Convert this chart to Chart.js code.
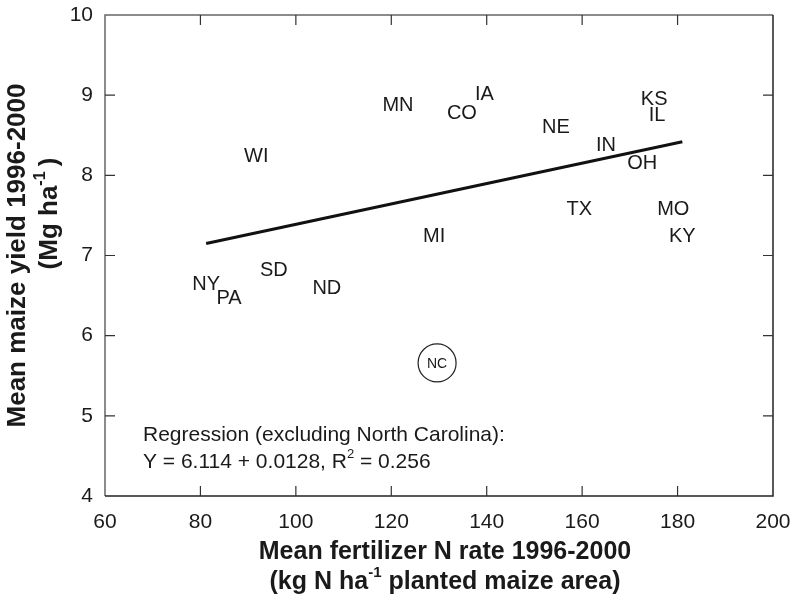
<!DOCTYPE html>
<html lang="en">
<head>
  <meta charset="UTF-8" />
  <title>Maize yield vs fertilizer N rate</title>
  <script src="https://cdn.jsdelivr.net/npm/chart.js"></script>
  <style>
    html, body { margin: 0; padding: 0; background: #fff; }
    #wrap { width: 795px; height: 602px; }
  </style>
</head>
<body>
  <div id="wrap"><canvas id="yieldChart" width="795" height="602"></canvas></div>

  <script>
    // state labels, mean N rate (kg N/ha) and mean yield (Mg/ha)
    const states = ['NY', 'PA', 'SD', 'ND', 'WI', 'MN', 'MI', 'CO', 'IA', 'NE', 'TX', 'IN', 'OH', 'KS', 'IL', 'MO', 'KY'];
    const nRate = [81.2, 86.0, 95.4, 106.5, 91.7, 121.4, 129.0, 134.8, 139.5, 154.5, 159.4, 165.0, 172.6, 175.1, 175.7, 179.1, 181.0];
    const yieldMean = [6.64, 6.47, 6.81, 6.59, 8.23, 8.87, 7.24, 8.77, 9.01, 8.60, 7.58, 8.37, 8.15, 8.95, 8.75, 7.58, 7.24];

    // North Carolina (outlier, circled)
    const ncLabel = ['NC'];
    const ncRate = [129.6];
    const ncYield = [5.66];

    // regression line end points
    const fitX = [81.2, 181.0];
    const fitY = [7.15, 8.42];

    const xTicks = [60, 80, 100, 120, 140, 160, 180, 200];
    const yTicks = [4, 5, 6, 7, 8, 9, 10];

    const FONT = '"Liberation Sans", Arial, sans-serif';
    const INK = '#1a1a1a';

    const toPts = (xs, ys) => xs.map((x, i) => ({ x: x, y: ys[i] }));

    // draw a line of text made of normal / superscript pieces
    function richText(ctx, parts, x, y, size, bold, align) {
      const w = bold ? 'bold ' : '';
      const supSize = Math.round(size * 0.6);
      let total = 0;
      parts.forEach(p => {
        ctx.font = w + (p.sup ? supSize : size) + 'px ' + FONT;
        p.w = ctx.measureText(p.t).width;
        total += p.w;
      });
      let cx = align === 'center' ? x - total / 2 : x;
      ctx.textAlign = 'left';
      ctx.textBaseline = 'middle';
      parts.forEach(p => {
        ctx.font = w + (p.sup ? supSize : size) + 'px ' + FONT;
        ctx.fillText(p.t, cx, p.sup ? y - size * 0.38 : y);
        cx += p.w;
      });
    }

    const framePlugin = {
      id: 'frame',
      afterDatasetsDraw(chart) {
        const ctx = chart.ctx;
        const a = chart.chartArea;
        const xs = chart.scales.x, ys = chart.scales.y;
        ctx.save();
        ctx.lineWidth = 1.5;
        // left + top (lighter), right + bottom (darker)
        ctx.strokeStyle = '#666';
        ctx.beginPath();
        ctx.moveTo(a.left, a.bottom); ctx.lineTo(a.left, a.top); ctx.lineTo(a.right, a.top);
        ctx.stroke();
        ctx.strokeStyle = '#222';
        ctx.beginPath();
        ctx.moveTo(a.left, a.bottom); ctx.lineTo(a.right, a.bottom); ctx.lineTo(a.right, a.top);
        ctx.stroke();
        // inward ticks on all four sides
        const tl = 10;
        ctx.lineWidth = 1.2;
        ctx.strokeStyle = '#333';
        xs.ticks.forEach(t => {
          if (t.value <= xs.min || t.value >= xs.max) return;
          const px = xs.getPixelForValue(t.value);
          ctx.beginPath();
          ctx.moveTo(px, a.bottom); ctx.lineTo(px, a.bottom - tl);
          ctx.moveTo(px, a.top); ctx.lineTo(px, a.top + tl);
          ctx.stroke();
        });
        ys.ticks.forEach(t => {
          if (t.value <= ys.min || t.value >= ys.max) return;
          const py = ys.getPixelForValue(t.value);
          ctx.beginPath();
          ctx.moveTo(a.left, py); ctx.lineTo(a.left + tl, py);
          ctx.moveTo(a.right, py); ctx.lineTo(a.right - tl, py);
          ctx.stroke();
        });

        // state abbreviations at their points
        ctx.fillStyle = INK;
        ctx.textAlign = 'center';
        ctx.textBaseline = 'middle';
        ctx.font = '20px ' + FONT;
        chart.getDatasetMeta(0).data.forEach((pt, i) => {
          ctx.fillText(states[i], pt.x, pt.y);
        });
        ctx.font = '14px ' + FONT;
        chart.getDatasetMeta(1).data.forEach((pt, i) => {
          ctx.fillText(ncLabel[i], pt.x, pt.y + 1);
        });

        // regression note
        richText(ctx, [{ t: 'Regression (excluding North Carolina):' }], a.left + 38, 435, 21, false, 'left');
        richText(ctx, [{ t: 'Y = 6.114 + 0.0128, R' }, { t: '2', sup: true }, { t: ' = 0.256' }], a.left + 38, 462, 21, false, 'left');

        // axis titles
        const midX = (a.left + a.right) / 2 + 6;
        richText(ctx, [{ t: 'Mean fertilizer N rate 1996-2000' }], midX, 552, 25, true, 'center');
        richText(ctx, [{ t: '(kg N ha' }, { t: '-1', sup: true }, { t: ' planted maize area)' }], midX, 582, 25, true, 'center');

        const midY = (a.top + a.bottom) / 2;
        ctx.translate(0, midY);
        ctx.rotate(-Math.PI / 2);
        richText(ctx, [{ t: 'Mean maize yield 1996-2000' }], 0, 18, 26, true, 'center');
        richText(ctx, [{ t: '(Mg ha' }, { t: '-1', sup: true }, { t: '\u2009)' }], 42, 50, 26, true, 'center');
        ctx.restore();
      }
    };

    new Chart(document.getElementById('yieldChart').getContext('2d'), {
      type: 'scatter',
      data: {
        datasets: [
          {
            label: 'States',
            data: toPts(nRate, yieldMean),
            pointRadius: 0,
            pointHoverRadius: 0
          },
          {
            label: 'North Carolina',
            data: toPts(ncRate, ncYield),
            pointRadius: 19,
            pointHoverRadius: 19,
            pointBackgroundColor: '#fff',
            pointBorderColor: '#222',
            pointBorderWidth: 1.2
          },
          {
            type: 'line',
            label: 'Regression',
            data: toPts(fitX, fitY),
            borderColor: '#111',
            borderWidth: 3,
            pointRadius: 0,
            fill: false
          }
        ]
      },
      options: {
        responsive: false,
        animation: false,
        events: [],
        layout: { autoPadding: false, padding: { top: 15, right: 22, left: 0, bottom: 0 } },
        plugins: {
          legend: { display: false },
          tooltip: { enabled: false }
        },
        scales: {
          x: {
            type: 'linear',
            min: 60,
            max: 200,
            afterBuildTicks: s => { s.ticks = xTicks.map(v => ({ value: v })); },
            afterFit: s => { s.height = 106; s.paddingLeft = 0; s.paddingRight = 0; },
            grid: { display: false, drawTicks: false },
            border: { display: false },
            ticks: { padding: 14, color: INK, font: { family: FONT, size: 21 } }
          },
          y: {
            type: 'linear',
            min: 4,
            max: 10,
            afterBuildTicks: s => { s.ticks = yTicks.map(v => ({ value: v })); },
            afterFit: s => { s.width = 105; s.paddingTop = 0; s.paddingBottom = 0; },
            grid: { display: false, drawTicks: false },
            border: { display: false },
            ticks: { padding: 12, color: INK, font: { family: FONT, size: 21 } }
          }
        }
      },
      plugins: [framePlugin]
    });
  </script>
</body>
</html>
